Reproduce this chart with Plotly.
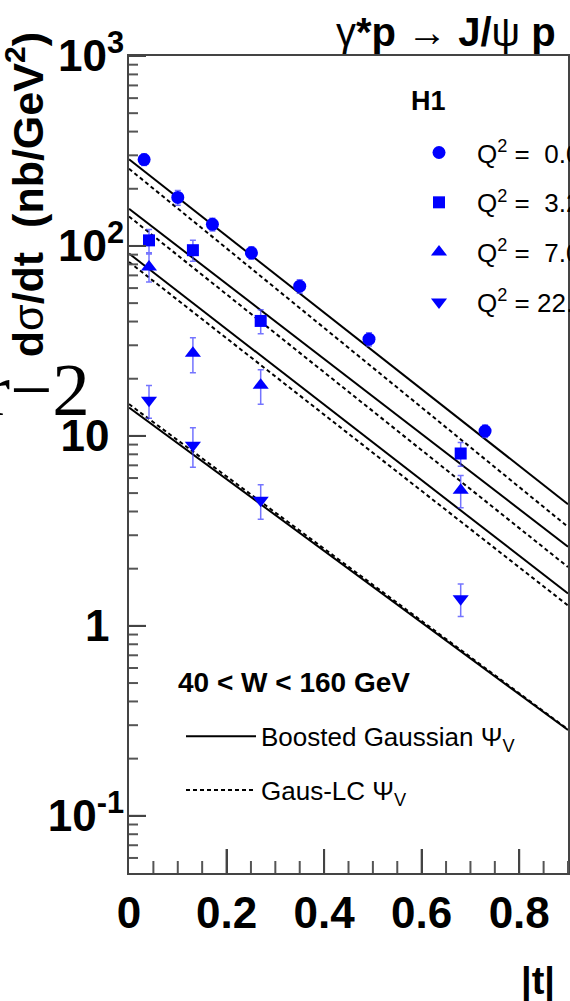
import math
import plotly.graph_objects as go

# ---------------- data ----------------
# H1 measurements, d sigma/dt (nb/GeV^2) vs |t| (GeV^2)
t_q0 = [0.031, 0.100, 0.171, 0.251, 0.350, 0.492, 0.730]
v_q0 = [285, 180, 130, 92, 61.4, 32.3, 10.6]
e_q0 = [20, 16, 10, 7, 5, 2.6, 0.8]

t_q3 = [0.041, 0.131, 0.270, 0.680]
v_q3 = [107, 95, 40.3, 8.08]
e_q3 = [15, 12, 5.8, 1.15]

t_q7 = [0.041, 0.131, 0.270, 0.680]
v_q7 = [77.6, 27.2, 18.5, 5.18]
e_q7 = [13, 5.7, 3.8, 1.0]

t_q22 = [0.041, 0.131, 0.270, 0.680]
v_q22 = [15.4, 8.93, 4.59, 1.39]
e_q22 = [3.0, 2.1, 0.95, 0.27]

series_names = ["Q<sup>2</sup> =\u00a0 0.05 GeV<sup>2</sup>",
                "Q<sup>2</sup> =\u00a0 3.2 GeV<sup>2</sup>",
                "Q<sup>2</sup> =\u00a0 7.0 GeV<sup>2</sup>",
                "Q<sup>2</sup> = 22.4 GeV<sup>2</sup>"]
series_symbols = ["circle", "square", "triangle-up", "triangle-down"]

# model curves (straight lines in log scale), values at |t| = 0 and 0.9
t_model = [0.0, 0.9]
bg_q0 = [286, 4.37]
bg_q3 = [157, 2.61]
bg_q7 = [91.2, 1.48]
bg_q22 = [14.1, 0.283]
lc_q0 = [255, 3.32]
lc_q3 = [143, 2.04]
lc_q7 = [82.4, 1.28]
lc_q22 = [14.7, 0.285]

x_tickvals = [0, 0.2, 0.4, 0.6, 0.8]
x_ticktext = ["0", "0.2", "0.4", "0.6", "0.8"]
y_tickvals = [0.1, 1, 10, 100, 1000]
y_ticktext = ["10<sup>-1</sup>", "1\u2005\u200a", "10\u2005\u200a",
              "10<sup>2</sup>", "10<sup>3</sup>"]
x_minor = [0.05 * i for i in range(1, 19) if i % 4 != 0]
y_minor = [m * 10 ** e for e in range(-2, 3) for m in range(2, 10)]

X_RANGE = [0.0, 0.9]
Y_RANGE = [math.log10(0.05), 3.0]

# ---------------- figure ----------------
FONT = "Liberation Sans, Arial, Helvetica, sans-serif"
PLOT_W, PLOT_H = 439.0, 817.0
fig = go.Figure()

solid_sets = [bg_q0, bg_q3, bg_q7, bg_q22]
dash_sets = [lc_q0, lc_q3, lc_q7, lc_q22]
for i, vals in enumerate(solid_sets):
    fig.add_trace(go.Scatter(
        x=t_model, y=vals, mode="lines",
        line=dict(color="black", width=2),
        name="Boosted Gaussian \u03a8<sub>V</sub>",
        legend="legend2", legendgroup="bg", showlegend=(i == 0),
        hoverinfo="skip"))
for i, vals in enumerate(dash_sets):
    fig.add_trace(go.Scatter(
        x=t_model, y=vals, mode="lines",
        line=dict(color="black", width=2, dash="4px,3px"),
        name="Gaus-LC \u03a8<sub>V</sub>",
        legend="legend2", legendgroup="lc", showlegend=(i == 0),
        hoverinfo="skip"))

data_sets = [(t_q0, v_q0, e_q0), (t_q3, v_q3, e_q3),
             (t_q7, v_q7, e_q7), (t_q22, v_q22, e_q22)]
msizes = [13, 12, 14, 14]
for k, (tt, vv, ee) in enumerate(data_sets):
    fig.add_trace(go.Scatter(
        x=tt, y=vv, mode="markers",
        marker=dict(symbol=series_symbols[k], size=msizes[k], color="#0000ff",
                    line=dict(width=0)),
        error_y=dict(type="data", array=ee, visible=True,
                     color="rgba(70,70,255,0.75)", thickness=1.5, width=3),
        name=series_names[k], legend="legend", legendgroup="g%d" % k))

fig.update_layout(
    width=570, height=1001,
    margin=dict(l=129, r=2, t=56, b=128, autoexpand=False),
    paper_bgcolor="white", plot_bgcolor="white",
    font=dict(family=FONT, color="black"),
    xaxis=dict(
        range=X_RANGE, tickmode="array", tickvals=x_tickvals,
        ticktext=x_ticktext,
        ticks="inside", ticklen=24, tickwidth=2, tickcolor="#444",
        showline=True, linecolor="#444", linewidth=2, mirror=True,
        showgrid=False, zeroline=False,
        tickfont=dict(size=44, family=FONT, weight="bold", color="black"),
    ),
    yaxis=dict(
        type="log", range=Y_RANGE,
        tickmode="array", tickvals=y_tickvals, ticktext=y_ticktext,
        ticks="inside", ticklen=17, tickwidth=2, tickcolor="#444",
        showline=True, linecolor="#444", linewidth=2, mirror=True,
        showgrid=False, zeroline=False,
        tickfont=dict(size=44, family=FONT, weight="bold", color="black"),
        ticklabelstandoff=-6,
    ),
    legend=dict(
        x=0.6196, y=0.9105, xanchor="left", yanchor="top",
        font=dict(size=26, family=FONT, color="black"),
        bgcolor="rgba(0,0,0,0)", borderwidth=0,
        itemwidth=66, tracegroupgap=13, traceorder="grouped",
    ),
    legend2=dict(
        x=(181 - 129) / 439.0, y=0.1960, xanchor="left", yanchor="top",
        font=dict(size=26, family=FONT, color="black"),
        bgcolor="rgba(0,0,0,0)", borderwidth=0,
        itemwidth=70, tracegroupgap=17, traceorder="grouped",
    ),
)

# axis tick marks drawn as thin line shapes on the frame (inside)
def xfrac(v):
    return (v - X_RANGE[0]) / (X_RANGE[1] - X_RANGE[0])

def yfrac(v):
    return (math.log10(v) - Y_RANGE[0]) / (Y_RANGE[1] - Y_RANGE[0])

shapes = []
for v, ln, col in ([(v, 24, "#444") for v in x_tickvals[1:]] +
                   [(v, 12, "#555") for v in x_minor]):
    shapes.append(dict(type="line", xref="paper", yref="paper",
                       x0=xfrac(v), x1=xfrac(v), y0=0, y1=ln / PLOT_H,
                       line=dict(color=col, width=2), layer="above"))
for v, ln, col in ([(v, 17, "#444") for v in y_tickvals] +
                   [(v, 9, "#555") for v in y_minor
                    if 0.05 < v < 1000]):
    shapes.append(dict(type="line", xref="paper", yref="paper",
                       x0=0, x1=ln / PLOT_W, y0=yfrac(v), y1=yfrac(v),
                       line=dict(color=col, width=2), layer="above"))
fig.update_layout(shapes=shapes)

def px_x(px):
    return (px - 129) / 439.0

def px_y(py):
    return (873.3 - py) / 817.6

annotations = [
    dict(text="\u03b3<b>*p</b> \u2192 <b>J/</b>\u03c8 <b>p</b>",
         x=px_x(558), y=px_y(32), xanchor="right", yanchor="middle",
         font=dict(size=40, family=FONT, color="black")),
    dict(text="<b>H1</b>", x=px_x(409), y=px_y(101), xanchor="left",
         yanchor="middle", font=dict(size=27, family=FONT, color="black")),
    dict(text="<b>40 < W < 160 GeV</b>", x=px_x(176), y=px_y(683),
         xanchor="left", yanchor="middle",
         font=dict(size=28, family=FONT, color="black")),
    dict(text="<b>|t|</b>", x=px_x(557), y=px_y(982), xanchor="right",
         yanchor="middle", font=dict(size=38, family=FONT, color="black")),
    dict(text="<b>d</b>\u03c3<b>/dt\u00a0 (nb/GeV<sup>2</sup>)</b>",
         x=px_x(25), y=px_y(195), xanchor="center", yanchor="middle",
         textangle=-90, font=dict(size=43, family=FONT, color="black")),
    dict(text="r\u22122", x=px_x(92), y=px_y(389), xanchor="right",
         yanchor="middle",
         font=dict(size=75, family="Liberation Serif, DejaVu Serif, serif",
                   color="black")),
]
for a in annotations:
    a.update(xref="paper", yref="paper", showarrow=False)
fig.update_layout(annotations=annotations)

fig.write_html("out.html")
